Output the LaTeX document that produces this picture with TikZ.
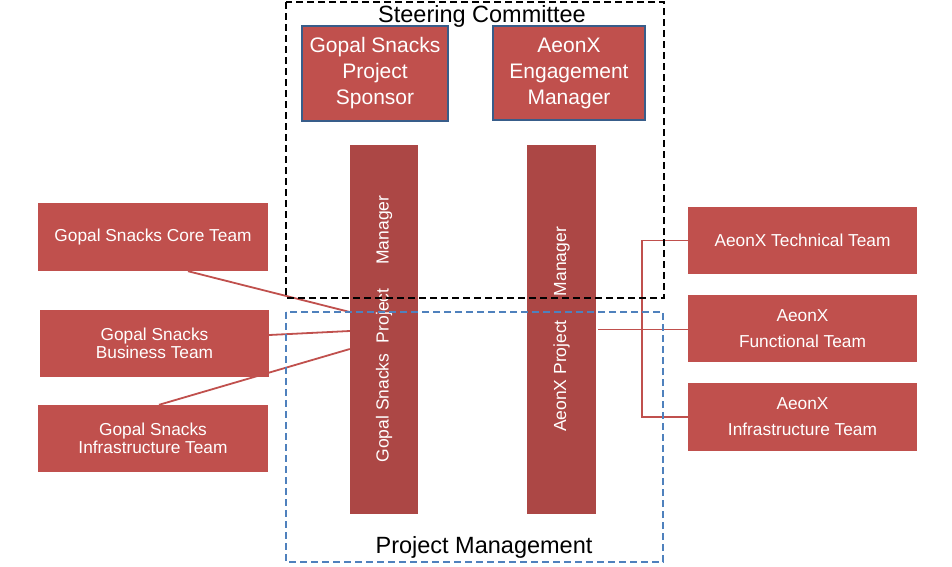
\documentclass[tikz,border=0pt]{standalone}
\usepackage{fontspec}
\setmainfont{Liberation Sans}
\usetikzlibrary{positioning,backgrounds}
\definecolor{teamred}{RGB}{192,80,77}
\definecolor{barred}{RGB}{172,71,69}
\definecolor{edgeblue}{RGB}{56,93,138}
\definecolor{pmblue}{RGB}{79,129,189}
\tikzset{
  team/.style={fill=teamred, text=white, inner sep=0pt, align=center,
    minimum width=229pt, minimum height=67pt, font=\fontsize{17.3}{18}\selectfont},
  lead/.style={fill=teamred, draw=edgeblue, line width=1.3pt, text=white, inner sep=0pt,
    align=center, font=\fontsize{21}{26}\selectfont},
  pmbar/.style={fill=barred, inner sep=0pt, minimum width=68pt, minimum height=369pt},
  barlabel/.style={text=white, rotate=90, inner sep=0pt, font=\fontsize{17.5}{20}\selectfont},
  link/.style={draw=teamred, line width=1.8pt},
  frame/.style={line width=1.4pt, dash pattern=on 7pt off 4pt},
}
\begin{document}
\begin{tikzpicture}[x=1pt,y=-1pt]
  \useasboundingbox (0,0) rectangle (952,566);

  % steering committee
  \node[lead, minimum width=146pt, minimum height=95pt] (sponsor) at (375,73.5)
    {Gopal Snacks\\Project\\Sponsor};
  \node[lead, minimum width=152pt, minimum height=94pt] (engage) at (569,73)
    {AeonX\\Engagement\\Manager};

  % project managers
  \node[pmbar] (gsbar) at (384,329) {};
  \node[barlabel] at (gsbar.center) {Gopal Snacks\hspace{10.5pt}Project\hspace{24pt}Manager};
  \node[pmbar, minimum width=69pt] (axbar) at (561.5,329.5) {};
  \node[barlabel] at (axbar.center) {AeonX Project\hspace{24pt}Manager};

  % teams
  \node[team, minimum width=230pt, minimum height=68pt] (core) at (153,237) {Gopal Snacks Core Team};
  \node[team] (business) at (154.5,343.5) {Gopal Snacks\\Business Team};
  \node[team, minimum width=230pt] (gsinfra) at (153,438.5) {Gopal Snacks\\Infrastructure Team};
  \node[team, font=\fontsize{17.3}{26}\selectfont] (tech) at (802.5,240.5) {AeonX Technical Team};
  \node[team, font=\fontsize{17.3}{26}\selectfont] (func) at (802.5,328.5) {AeonX\\Functional Team};
  \node[team, font=\fontsize{17.3}{26}\selectfont, minimum height=68pt] (axinfra) at (802.5,417) {AeonX\\Infrastructure Team};

  \begin{scope}[on background layer]
    \draw[link] ([xshift=35pt]core.south) -- ([yshift=17pt]gsbar.west);
    \draw[link] ([yshift=8.5pt]business.east) -- ([yshift=-2pt]gsbar.west);
    \draw[link] ([xshift=6pt]gsinfra.north) -- ([yshift=-20pt]gsbar.west);
    \draw[link] ([xshift=2pt]axbar.east) -- (axbar.east -| func.west);
    \draw[link] (tech.west) -- ++(-46,0) |- (axinfra.west);
  \end{scope}

  % groups
  \draw[frame] (286,2) rectangle (664,298);
  \node[anchor=base, font=\fontsize{23.5}{26}\selectfont] (sclabel) at (482,22) {Steering Committee};
  \draw[frame, draw=pmblue] (286,312) rectangle (663,562);
  \node[anchor=base, font=\fontsize{23.5}{26}\selectfont] (pmlabel) at (484,553) {Project Management};
\end{tikzpicture}
\end{document}
